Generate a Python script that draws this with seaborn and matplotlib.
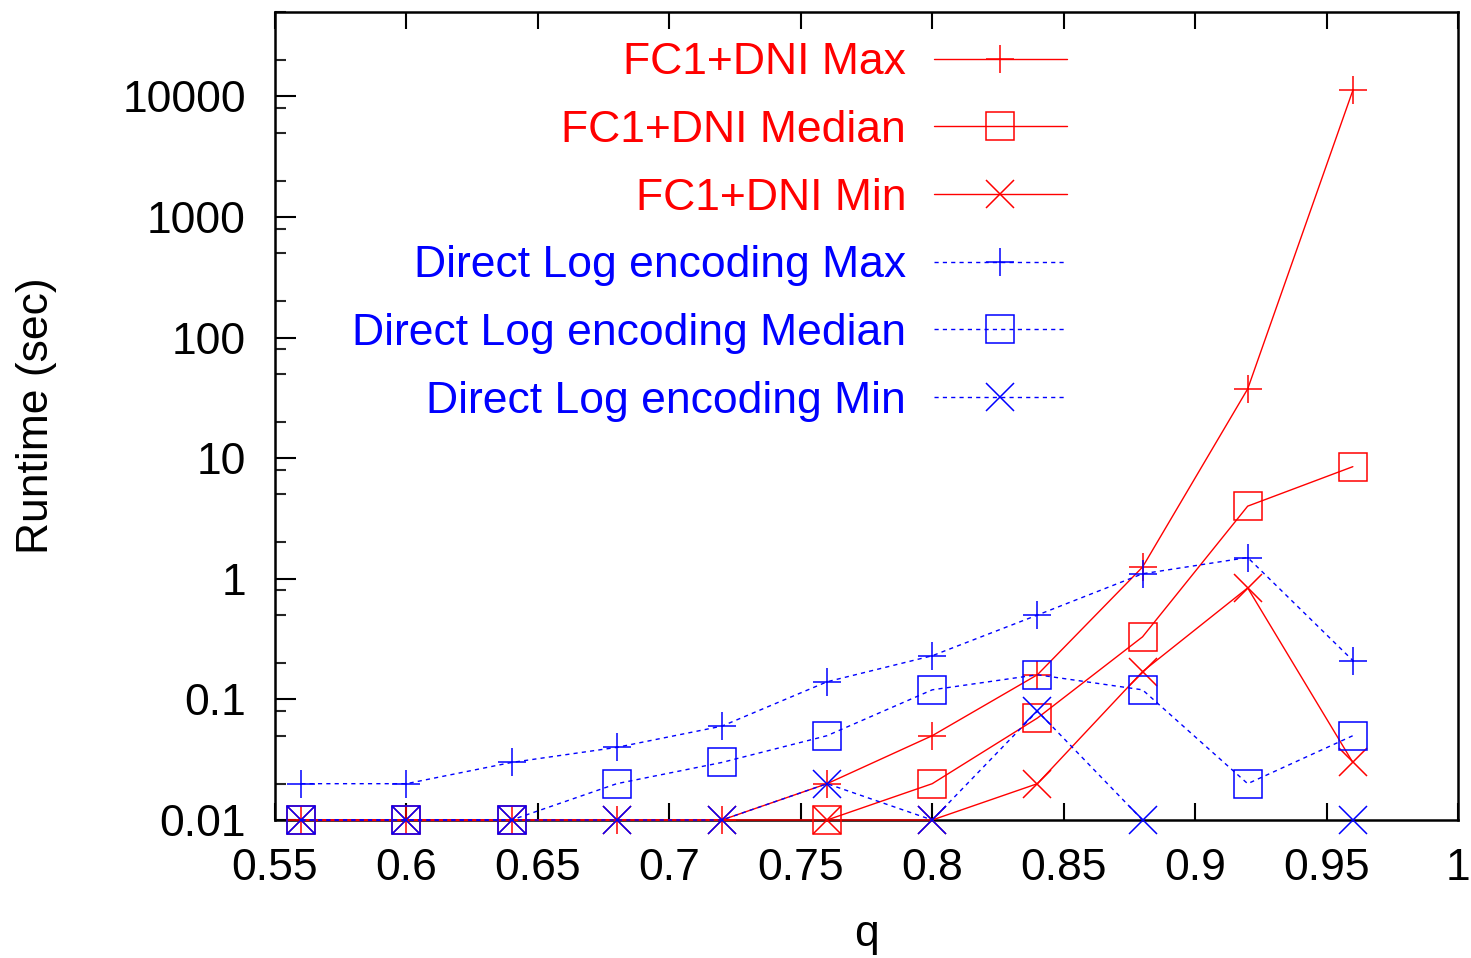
import numpy as np
import pandas as pd
import matplotlib
matplotlib.use("Agg")
import matplotlib.pyplot as plt
from matplotlib.lines import Line2D
from matplotlib.ticker import FixedLocator, LogLocator, NullFormatter, NullLocator
import seaborn as sns

# ---- data ----
q = [0.56, 0.60, 0.64, 0.68, 0.72, 0.76, 0.80, 0.84, 0.88, 0.92, 0.96]
fc1_max = [0.01, 0.01, 0.01, 0.01, 0.01, 0.02, 0.05, 0.16, 1.25, 37.5, 11200]
fc1_median = [0.01, 0.01, 0.01, np.nan, np.nan, 0.01, 0.02, 0.07, 0.33, 4.0, 8.5]
fc1_min = [0.01, 0.01, 0.01, 0.01, 0.01, 0.01, 0.01, 0.02, 0.17, 0.84, 0.03]
dle_max = [0.02, 0.02, 0.03, 0.04, 0.06, 0.14, 0.23, 0.5, 1.1, 1.5, 0.21]
dle_median = [0.01, 0.01, 0.01, 0.02, 0.03, 0.05, 0.12, 0.16, 0.12, 0.02, 0.05]
dle_min = [0.01, 0.01, 0.01, 0.01, 0.01, 0.02, 0.01, 0.08, 0.01, np.nan, 0.01]

labels = ["FC1+DNI Max", "FC1+DNI Median", "FC1+DNI Min",
          "Direct Log encoding Max", "Direct Log encoding Median", "Direct Log encoding Min"]
series = [fc1_max, fc1_median, fc1_min, dle_max, dle_median, dle_min]
colors = ["#ff0000"] * 3 + ["#0000ff"] * 3
markers = ["+", "s", "x", "+", "s", "x"]
styles = ["-"] * 3 + [(0, (3, 3))] * 3

xticks = [0.55, 0.6, 0.65, 0.7, 0.75, 0.8, 0.85, 0.9, 0.95, 1.0]
xticklabels = ["0.55", "0.6", "0.65", "0.7", "0.75", "0.8", "0.85", "0.9", "0.95", "1"]
yticks = [0.01, 0.1, 1, 10, 100, 1000, 10000]
yticklabels = ["0.01", "0.1", "1", "10", "100", "1000", "10000"]

# ---- style ----
sns.set_theme(style="ticks")
plt.rcParams["font.family"] = ["Liberation Sans", "DejaVu Sans"]
FS = 32

fig = plt.figure(figsize=(14.71, 9.58), dpi=100)
ax = fig.add_axes([275 / 1471, 1 - 820 / 958, (1458 - 275) / 1471, (820 - 12) / 958])

handles = []
for vals, lab, col, mk, ls in zip(series, labels, colors, markers, styles):
    df = pd.DataFrame({"q": q, "t": vals})
    df["seg"] = df["t"].isna().cumsum()
    df = df.dropna()
    ms = 20
    sns.lineplot(data=df, x="q", y="t", units="seg", estimator=None, ax=ax,
                 color=col, linestyle=ls, linewidth=1.0, marker=mk, markersize=ms,
                 markerfacecolor="none", markeredgecolor=col, markeredgewidth=1.1,
                 legend=False, clip_on=False, zorder=3)
    handles.append(Line2D([], [], color=col, linestyle=ls, linewidth=1.0, marker=mk,
                          markersize=ms, markerfacecolor="none", markeredgecolor=col,
                          markeredgewidth=1.1))

ax.set_yscale("log")
ax.set_xlim(0.55, 1.0)
ax.set_ylim(0.01, 50000)

ax.xaxis.set_major_locator(FixedLocator(xticks))
ax.set_xticklabels(xticklabels)
ax.xaxis.set_minor_locator(NullLocator())
ax.yaxis.set_major_locator(FixedLocator(yticks))
ax.set_yticklabels(yticklabels)
ax.yaxis.set_minor_locator(LogLocator(base=10, subs=[2, 5, 8], numticks=30))
ax.yaxis.set_minor_formatter(NullFormatter())

ax.tick_params(axis="x", which="major", direction="in", top=True, bottom=True,
               length=12, width=1.5, labelsize=FS, pad=20, colors="black")
ax.tick_params(axis="y", which="major", direction="in", left=True, right=False,
               length=15, width=1.5, labelsize=FS, pad=21, colors="black")
ax.tick_params(axis="y", which="minor", direction="in", left=True, right=False,
               length=8, width=1.5)

for s in ax.spines.values():
    s.set_visible(True)
    s.set_linewidth(1.8)
    s.set_color("black")
    s.set_zorder(2.5)

ax.set_xlabel("q", fontsize=FS, labelpad=18, color="black")
ax.set_ylabel("Runtime (sec)", fontsize=FS, color="black")
ax.yaxis.set_label_coords(-0.184, 0.5)
ax.grid(False)

leg = ax.legend(handles, labels, loc="upper right", bbox_to_anchor=(0.6695, 0.9625),
                borderaxespad=0, borderpad=0, frameon=False, markerfirst=False,
                fontsize=FS, handlelength=3.0, handletextpad=0.62, labelspacing=0.6,
                numpoints=1)
for txt, col in zip(leg.get_texts(), colors):
    txt.set_color(col)

fig.savefig("out.png", dpi=100)
